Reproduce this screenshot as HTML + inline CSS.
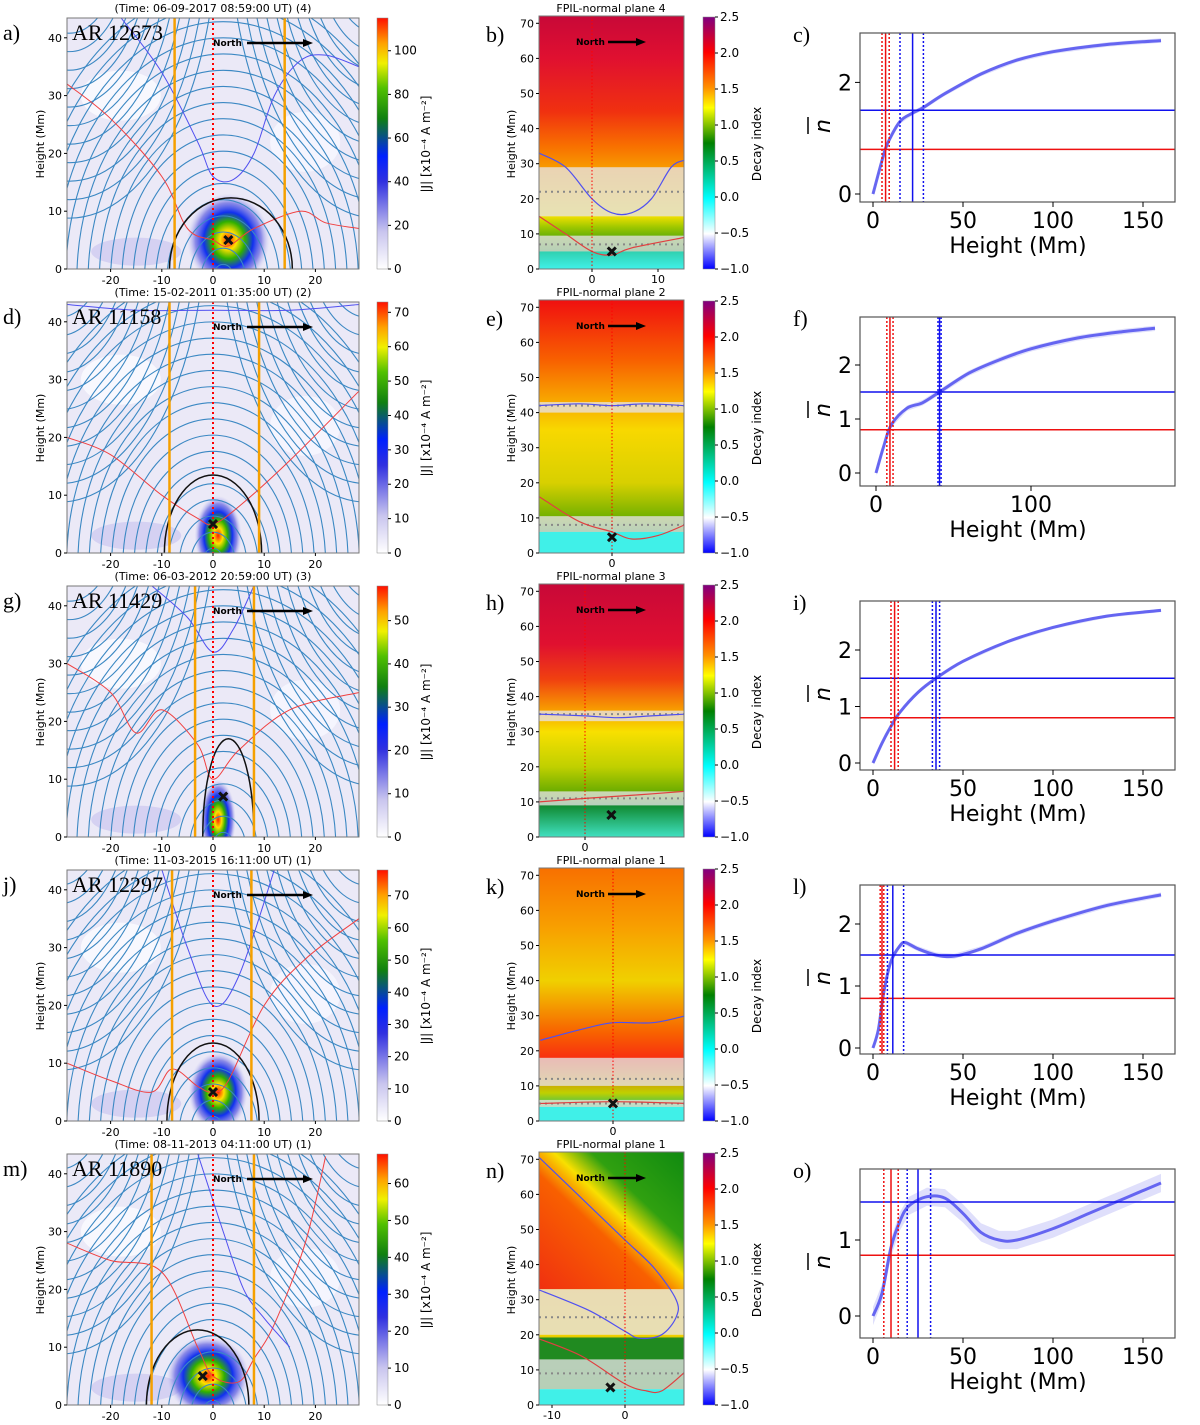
<!DOCTYPE html>
<html><head><meta charset="utf-8"><style>
body{margin:0;background:#fff}
svg text{font-family:"DejaVu Sans","Liberation Sans",sans-serif}
</style></head><body>
<svg id="fig" xmlns="http://www.w3.org/2000/svg" width="1200" height="1420" viewBox="0 0 1200 1420">
<defs>
<linearGradient id="jcb" x1="0" y1="1" x2="0" y2="0">
<stop offset="0" stop-color="#ffffff"/><stop offset="0.15" stop-color="#c8c4ee"/><stop offset="0.35" stop-color="#3030e0"/><stop offset="0.45" stop-color="#0020ff"/><stop offset="0.6" stop-color="#108010"/><stop offset="0.72" stop-color="#50c000"/><stop offset="0.82" stop-color="#f0f000"/><stop offset="0.9" stop-color="#ffa000"/><stop offset="1" stop-color="#ff1000"/>
</linearGradient>
<linearGradient id="dcb" x1="0" y1="1" x2="0" y2="0">
<stop offset="0" stop-color="#0000ff"/><stop offset="0.14" stop-color="#ffffff"/><stop offset="0.28" stop-color="#00ffff"/><stop offset="0.5" stop-color="#008000"/><stop offset="0.64" stop-color="#ffff00"/><stop offset="0.72" stop-color="#ff9000"/><stop offset="0.86" stop-color="#ff0000"/><stop offset="1" stop-color="#800080"/>
</linearGradient>
<linearGradient id="ndiag" x1="0" y1="1" x2="1" y2="0">
<stop offset="0" stop-color="#f03010"/><stop offset="0.42" stop-color="#f86000"/><stop offset="0.55" stop-color="#f8e000"/><stop offset="0.68" stop-color="#30a010"/><stop offset="1" stop-color="#108a10"/>
</linearGradient>
<radialGradient id="blob"><stop offset="0" stop-color="#ff2000"/><stop offset="0.2" stop-color="#ffe000"/><stop offset="0.4" stop-color="#30b000"/><stop offset="0.6" stop-color="#1030f0"/><stop offset="0.8" stop-color="#6060e0" stop-opacity="0.7"/><stop offset="1" stop-color="#c0c0f0" stop-opacity="0"/></radialGradient>
</defs>
</svg>
<script>
// ---------- data ----------
const rowOffsets=[0,284,568,852,1136];
const letters1=["a)","d)","g)","j)","m)"],letters2=["b)","e)","h)","k)","n)"],letters3=["c)","f)","i)","l)","o)"];
const timeTitles=["(Time: 06-09-2017 08:59:00 UT) (4)","(Time: 15-02-2011 01:35:00 UT) (2)","(Time: 06-03-2012 20:59:00 UT) (3)","(Time: 11-03-2015 16:11:00 UT) (1)","(Time: 08-11-2013 04:11:00 UT) (1)"];
const arNames=["AR 12673","AR 11158","AR 11429","AR 12297","AR 11890"];
const planeTitles=["FPIL-normal plane 4","FPIL-normal plane 2","FPIL-normal plane 3","FPIL-normal plane 1","FPIL-normal plane 1"];
const jMax=[115,73,58,78,68];
const jStep=[20,10,10,10,10];
const orangeX=[[-7.5,14],[-8.5,9],[-3.5,8],[-8,7.5],[-12,8]];
const blobCenter=[[3,5],[1,3],[1,3],[1,5],[-1,5]];
const blobSize=[[7,7],[4,6],[3,6],[5,6],[7,6]];
const xMark1=[[3,5],[0,5],[2,7],[0,5],[-2,5]];
const blackArc=[[3.5,12,12.3],[0,9.5,13.5],[3,5,17],[0,9,13.5],[-3,10,13]];
const fieldCenter=[2,0,2,0,0];
const red1=[[[-28.5,32],[-20,26],[-10,16],[-5,7],[0,5],[3,4],[8,7],[17,10],[22,8],[28.5,7]],
 [[-28.5,20],[-20,17],[-10,10],[-3,6],[0,5],[5,8],[15,16],[28.5,28]],
 [[-28.5,30],[-20,25],[-15,18],[-10,22],[-3,16],[0,10],[5,15],[15,22],[28.5,25]],
 [[-28.5,10],[-20,7],[-12,5],[-8,9],[-3,6],[0,5],[3,7],[10,20],[18,28],[28.5,35]],
 [[-28.5,28],[-20,25],[-10,23],[-3,10],[0,5],[5,4],[8,8],[12,14],[18,28],[22,43]]];
const blue1=[[[-18,43.5],[-10,34],[-3,22],[0,16],[4,15.5],[8,20],[12,30],[17,36],[22,37],[28.5,35]],
 [[-28.5,43],[-15,42],[0,42],[15,42],[28.5,43]],
 [[-12,43.5],[-5,38],[0,32],[4,36],[8,43.5]],
 [[-10,43.5],[-5,30],[0,20],[5,25],[12,43.5]],
 [[-3,43.5],[2,30],[6,20],[10,15],[15,10]]];
const d2x0=[592,612,585,613,625];
const d2scale=[6.6,6.6,6.6,6.6,7.3];
const d2stops=[
 [[0,'#40f0e8'],[5,'#30d0b0'],[5.1,'#108a10'],[12,'#a0c800'],[15,'#f0e000'],[28,'#f8a000'],[35,'#f87000'],[45,'#f03010'],[60,'#e01030'],[72,'#c80838']],
 [[0,'#40f0e8'],[6,'#40f0e8'],[6.1,'#209020'],[10,'#70b000'],[20,'#d8d000'],[35,'#f8d800'],[42,'#f8b000'],[55,'#f86000'],[72,'#f01010']],
 [[0,'#40e0c0'],[9,'#108a30'],[12,'#60a800'],[20,'#c0d000'],[30,'#f8e000'],[36,'#f8a000'],[45,'#f04010'],[55,'#e01030'],[72,'#c80838']],
 [[0,'#40f0e8'],[4,'#40f0e8'],[4.1,'#30c060'],[8,'#c0d000'],[18,'#f83010'],[25,'#f86000'],[40,'#f0d000'],[55,'#f8a000'],[72,'#f87000']],
 [[0,'#40f0e8'],[4.5,'#40f0e8'],[4.6,'#108a10'],[13,'#208a20'],[19,'#208a20'],[19.5,'#f0d000'],[33,'#f8c000'],[72,'#f04010']]];
const d2bands=[[[15,29],[5,9.5]],[[40,43],[6,10.5]],[[33,36],[9,13]],[[10,18],[4,6]],[[20,33],[4.5,13]]];
const d2dots=[[22,7],[42,8],[35,11],[12,5],[25,9]];
const d2xticks=[[0,10],[0],[0],[0],[-10,0]];
const d2mark=[[3,5],[0,4.5],[4,6.3],[0,5],[-2,5]];
const d2blue=[[[-8,33],[-4,29],[0,20],[3,16],[6,16],[9,20],[12,29],[14,31]],
 [[-11,42],[-5,42.5],[0,42],[5,42.5],[11,42]],
 [[-7,35],[0,34.5],[5,34],[10,34.5],[15,35]],
 [[-11,23],[-5,26],[0,28],[6,28],[11,30]],
 [[-12,71],[-5,57],[0,47],[4,39],[7,30],[7,25],[5,20],[2,19],[0,21],[-5,27],[-12,33]]];
const d2red=[[[-8,15],[-4,10],[0,5],[3,4],[6,6],[14,9]],
 [[-11,16],[-5,9],[0,6],[3,4],[7,5],[11,8]],
 [[-7,10],[0,11],[8,12],[15,13]],
 [[-11,5],[0,5.5],[11,5]],
 [[-12,19],[-6,14],[0,6],[3,4],[5,4],[8,9]]];
const c3x0=[873,876,873,873,873];
const c3sx=[1.8,1.55,1.8,1.8,1.8];
const c3y0=[194,189,195,196,180];
const c3sy=[55.8,54,56.5,62,76];
const c3yticks=[[0,2],[0,1,2],[0,1,2],[0,1,2],[0,1]];
const c3xticks=[[0,50,100,150],[0,100],[0,50,100,150],[0,50,100,150],[0,50,100,150]];
const redSolid=[7,9,12,5,10],redDot=[[5,9],[7,11],[10,14],[4,6],[6,14]];
const blueSolid=[22,41,35,11,25],blueDot=[[15,28],[40,42],[33,37],[8,17],[19,32]];
const hBlue=1.5,hRed=0.8;
const profH=[[0,5,8,15,22,28,40,60,80,100,130,160],[0,5,10,20,30,41,60,80,100,130,160,180],[0,5,10,15,25,35,50,75,100,130,160],[0,3,6,10,15,18,25,35,45,60,80,100,130,160],[0,5,10,15,20,30,40,50,60,70,80,100,120,140,160]];
const profN=[[0,0.6,0.9,1.3,1.45,1.55,1.8,2.15,2.4,2.55,2.68,2.75],[0,0.5,0.9,1.2,1.3,1.5,1.85,2.1,2.3,2.5,2.62,2.68],[0,0.35,0.65,0.9,1.25,1.5,1.8,2.15,2.4,2.6,2.7],[0,0.3,0.9,1.4,1.65,1.7,1.6,1.5,1.48,1.6,1.85,2.05,2.3,2.47],[0,0.3,0.9,1.25,1.45,1.57,1.55,1.35,1.1,1.0,1.0,1.15,1.35,1.55,1.75]];
const profErr=[0.04,0.05,0.03,0.04,0.12];

const NS="http://www.w3.org/2000/svg",svg=document.getElementById('fig');
function el(t,a,p){const e=document.createElementNS(NS,t);for(const k in a)e.setAttribute(k,a[k]);(p||svg).appendChild(e);return e;}
function txt(s,a,p){const e=el('text',a,p);e.textContent=s;return e;}
function pathOf(pts,fx,fy){return pts.map((p,i)=>(i?'L':'M')+fx(p[0]).toFixed(1)+' '+fy(p[1]).toFixed(1)).join(' ');}
function smooth(pts,fx,fy){let d='M'+fx(pts[0][0])+' '+fy(pts[0][1]);for(let i=1;i<pts.length;i++){const p0=pts[Math.max(i-2,0)],p1=pts[i-1],p2=pts[i],p3=pts[Math.min(i+1,pts.length-1)];
 const c1=[fx(p1[0])+(fx(p2[0])-fx(p0[0]))/6,fy(p1[1])+(fy(p2[1])-fy(p0[1]))/6],c2=[fx(p2[0])-(fx(p3[0])-fx(p1[0]))/6,fy(p2[1])-(fy(p3[1])-fy(p1[1]))/6];
 d+=` C${c1[0].toFixed(1)} ${c1[1].toFixed(1)} ${c2[0].toFixed(1)} ${c2[1].toFixed(1)} ${fx(p2[0]).toFixed(1)} ${fy(p2[1]).toFixed(1)}`;}return d;}
function xmark(g,x,y){el('path',{d:`M${x-4} ${y-4}L${x+4} ${y+4}M${x-4} ${y+4}L${x+4} ${y-4}`,stroke:'#111','stroke-width':3},g);}

rowOffsets.forEach((oy,r)=>{
 const row=el('g',{transform:`translate(0,${oy})`});
 
 
 const g1=el('g',{});
 
 
 row.appendChild(g1);
 const X=x=>213+x*5.12,Y=h=>269-h*5.78;
 const L=67,R=359,T=18,B=269;
 el('clipPath',{id:'c1'+r},g1).appendChild(el('rect',{x:L,y:T,width:R-L,height:B-T},g1));
 const pg=el('g',{'clip-path':`url(#c1${r})`},g1);
 el('rect',{x:L,y:T,width:R-L,height:B-T,fill:'#ebe9f7'},pg);
 el('ellipse',{cx:X(-18),cy:Y(30),rx:40,ry:25,fill:'#fbfbff',opacity:0.8},pg);
 el('ellipse',{cx:X(18),cy:Y(22),rx:35,ry:30,fill:'#f8f8ff',opacity:0.8},pg);
 el('ellipse',{cx:X(-15),cy:Y(3),rx:45,ry:14,fill:'#cfcaf0',opacity:0.8},pg);
 const bc=blobCenter[r],bs=blobSize[r];
 const blob=el('ellipse',{cx:X(bc[0]),cy:Y(bc[1]),rx:bs[0]*5.12*1.15,ry:bs[1]*5.78*1.15,fill:'url(#blob)'},pg);
 
 
 const fc=fieldCenter[r];
 const sl=el('g',{fill:'none',stroke:'#3b88c3','stroke-width':1.1},pg);
 
 
 for(let k=1;k<=18;k++){const rx=k*2.2,ry=k*2.8;
  el('path',{d:`M${X(fc-rx)} ${Y(-2)} A${rx*5.12} ${ry*5.78} 0 0 1 ${X(fc+rx)} ${Y(-2)}`},sl);}
 [-30,30].forEach(c=>{for(let k=2;k<=16;k++){const rx=k*1.8,ry=k*3.2;
  el('path',{d:`M${X(c+fc-rx)} ${Y(60)} A${rx*5.12} ${ry*5.78} 0 0 0 ${X(c+fc+rx)} ${Y(60)}`},sl);}});
 const rc=el('path',{d:smooth(red1[r],X,Y),fill:'none',stroke:'#f04040','stroke-width':1},pg);
 
 
 const bcn=el('path',{d:smooth(blue1[r],X,Y),fill:'none',stroke:'#5050f0','stroke-width':1},pg);
 
 
 const ba=blackArc[r];
 const arc=el('path',{d:`M${X(ba[0]-ba[1])} ${Y(0)} A${ba[1]*5.12} ${ba[2]*5.78} 0 0 1 ${X(ba[0]+ba[1])} ${Y(0)}`,fill:'none',stroke:'#111','stroke-width':1.5},pg);
 
 
 orangeX[r].forEach(v=>{const o=el('line',{x1:X(v),x2:X(v),y1:T,y2:B,stroke:'#f5a000','stroke-width':2.5},pg);
  
  });
 el('line',{x1:X(0),x2:X(0),y1:T,y2:B,stroke:'#f00','stroke-width':2,'stroke-dasharray':'2 3'},pg);
 xmark(pg,X(xMark1[r][0]),Y(xMark1[r][1]));
 txt('North',{x:213,y:46,'font-size':9,'font-weight':'bold'},pg);
 el('path',{d:'M247 43H303',stroke:'#000','stroke-width':2.5},pg);
 el('path',{d:'M303 39L313 43L303 47Z',fill:'#000'},pg);
 txt(arNames[r],{x:72,y:40,'font-size':22,style:'font-family:"Liberation Serif",serif'},g1);
 el('rect',{x:L,y:T,width:R-L,height:B-T,fill:'none',stroke:'#777','stroke-width':1},g1);
 txt(timeTitles[r],{x:213,y:12,'font-size':11,'text-anchor':'middle'},g1);
 txt(letters1[r],{x:3,y:40,'font-size':22,style:'font-family:"Liberation Serif",serif'},g1);
 [-20,-10,0,10,20].forEach(v=>{el('line',{x1:X(v),x2:X(v),y1:B,y2:B+3,stroke:'#000'},g1);txt(String(v),{x:X(v),y:B+15,'font-size':11,'text-anchor':'middle'},g1);});
 [0,10,20,30,40].forEach(v=>{el('line',{x1:L-3,x2:L,y1:Y(v),y2:Y(v),stroke:'#000'},g1);txt(String(v),{x:L-5,y:Y(v)+4,'font-size':11,'text-anchor':'end'},g1);});
 txt('Height (Mm)',{transform:`translate(44,144) rotate(-90)`,'font-size':11,'text-anchor':'middle'},g1);
 const cb=el('rect',{x:377,y:T,width:11,height:B-T,fill:'url(#jcb)',stroke:'#888','stroke-width':0.5},g1);
 
 
 for(let v=0;v<=jMax[r];v+=jStep[r]){const y=B-(v/jMax[r])*(B-T);el('line',{x1:388,x2:391,y1:y,y2:y,stroke:'#000'},g1);txt(String(v),{x:394,y:y+4,'font-size':12},g1);}
 txt('|J| [x10\u207B\u2074 A m\u207B\u00B2]',{transform:`translate(430,144) rotate(-90)`,'font-size':12,'text-anchor':'middle'},g1);

 const g2=el('g',{});
 
 
 row.appendChild(g2);
 const X2=x=>d2x0[r]+x*d2scale[r],Y2=h=>269-h*3.51;
 const L2=539,R2=684,T2=16,B2=269;
 const gid='dg'+r;const lg=el('linearGradient',{id:gid,x1:0,y1:1,x2:0,y2:0,gradientUnits:'objectBoundingBox'},g2);
 d2stops[r].forEach(s=>el('stop',{offset:Math.min(1,s[0]/72),'stop-color':s[1]},lg));
 el('clipPath',{id:'c2'+r},g2).appendChild(el('rect',{x:L2,y:T2,width:R2-L2,height:B2-T2},g2));
 const pg2=el('g',{'clip-path':`url(#c2${r})`},g2);
 el('rect',{x:L2,y:Y2(72),width:R2-L2,height:Y2(0)-Y2(72),fill:`url(#${gid})`},pg2);
 if(r===4)el('rect',{x:L2,y:Y2(72),width:R2-L2,height:Y2(33)-Y2(72),fill:'url(#ndiag)'},pg2);
 d2bands[r].forEach(b=>{const bd=el('rect',{x:L2,y:Y2(b[1]),width:R2-L2,height:Y2(b[0])-Y2(b[1]),fill:'#e6e3e6',opacity:0.78},pg2);
  
  });
 d2dots[r].forEach(h=>el('line',{x1:L2,x2:R2,y1:Y2(h),y2:Y2(h),stroke:'#888','stroke-width':2,'stroke-dasharray':'2 4'},pg2));
 el('path',{d:smooth(d2blue[r],X2,Y2),fill:'none',stroke:'#5050f0','stroke-width':1.2},pg2);
 el('path',{d:smooth(d2red[r],X2,Y2),fill:'none',stroke:'#e04040','stroke-width':1.2},pg2);
 el('line',{x1:X2(0),x2:X2(0),y1:T2,y2:B2,stroke:'#f00','stroke-width':1,'stroke-dasharray':'1.5 2'},pg2);
 xmark(pg2,X2(d2mark[r][0]),Y2(d2mark[r][1]));
 txt('North',{x:576,y:45,'font-size':9,'font-weight':'bold'},pg2);
 el('path',{d:'M608 42H636',stroke:'#000','stroke-width':2.5},pg2);
 el('path',{d:'M636 38L646 42L636 46Z',fill:'#000'},pg2);
 el('rect',{x:L2,y:T2,width:R2-L2,height:B2-T2,fill:'none',stroke:'#777','stroke-width':1},g2);
 txt(planeTitles[r],{x:611,y:12,'font-size':11,'text-anchor':'middle'},g2);
 txt(letters2[r],{x:486,y:42,'font-size':22,style:'font-family:"Liberation Serif",serif'},g2);
 d2xticks[r].forEach(v=>{el('line',{x1:X2(v),x2:X2(v),y1:B2,y2:B2+3,stroke:'#000'},g2);txt(String(v),{x:X2(v),y:B2+14,'font-size':11,'text-anchor':'middle'},g2);});
 for(let v=0;v<=70;v+=10){el('line',{x1:L2-3,x2:L2,y1:Y2(v),y2:Y2(v),stroke:'#000'},g2);txt(String(v),{x:L2-5,y:Y2(v)+4,'font-size':11,'text-anchor':'end'},g2);}
 txt('Height (Mm)',{transform:`translate(515,144) rotate(-90)`,'font-size':11,'text-anchor':'middle'},g2);
 const cb2=el('rect',{x:703,y:17,width:12,height:252,fill:'url(#dcb)',stroke:'#888','stroke-width':0.5},g2);
 
 
 [-1,-0.5,0,0.5,1,1.5,2,2.5].forEach(v=>{const y=269-(v+1)/3.5*252;el('line',{x1:715,x2:718,y1:y,y2:y,stroke:'#000'},g2);txt((v<0?'\u2212':'')+Math.abs(v).toFixed(1),{x:720,y:y+4,'font-size':12},g2);});
 txt('Decay index',{transform:`translate(761,144) rotate(-90)`,'font-size':12,'text-anchor':'middle'},g2);

 const g3=el('g',{});
 
 
 row.appendChild(g3);
 const X3=v=>c3x0[r]+v*c3sx[r],Y3=v=>c3y0[r]-v*c3sy[r];
 const L3=860,R3=1175,T3=33,B3=202;
 el('clipPath',{id:'c3'+r},g3).appendChild(el('rect',{x:L3,y:T3,width:R3-L3,height:B3-T3},g3));
 const pg3=el('g',{'clip-path':`url(#c3${r})`},g3);
 const H=profH[r],N=profN[r],e=profErr[r];
 const up=H.map((h,i)=>[h,N[i]+e]),dn=H.map((h,i)=>[h,N[i]-e]).reverse();
 el('path',{d:pathOf(up.concat(dn),X3,Y3)+'Z',fill:'#8080f0',opacity:0.25},pg3);
 const cur=el('path',{d:smooth(H.map((h,i)=>[h,N[i]]),X3,Y3),fill:'none',stroke:'#5050ee','stroke-width':3,opacity:0.85},pg3);
 
 
 const hb=el('line',{x1:L3,x2:R3,y1:Y3(hBlue),y2:Y3(hBlue),stroke:'#1010ee','stroke-width':1.5},pg3);
 
 
 const hr=el('line',{x1:L3,x2:R3,y1:Y3(hRed),y2:Y3(hRed),stroke:'#ee1010','stroke-width':1.5},pg3);
 
 
 el('line',{x1:X3(redSolid[r]),x2:X3(redSolid[r]),y1:T3,y2:B3,stroke:'#ee1010','stroke-width':1.5},pg3);
 redDot[r].forEach(v=>el('line',{x1:X3(v),x2:X3(v),y1:T3,y2:B3,stroke:'#ee1010','stroke-width':1.5,'stroke-dasharray':'2 2'},pg3));
 el('line',{x1:X3(blueSolid[r]),x2:X3(blueSolid[r]),y1:T3,y2:B3,stroke:'#1010ee','stroke-width':1.5},pg3);
 blueDot[r].forEach(v=>el('line',{x1:X3(v),x2:X3(v),y1:T3,y2:B3,stroke:'#1010ee','stroke-width':1.5,'stroke-dasharray':'2 2'},pg3));
 el('rect',{x:L3,y:T3,width:R3-L3,height:B3-T3,fill:'none',stroke:'#555','stroke-width':1.2},g3);
 txt(letters3[r],{x:793,y:42,'font-size':22,style:'font-family:"Liberation Serif",serif'},g3);
 c3xticks[r].forEach(v=>{el('line',{x1:X3(v),x2:X3(v),y1:B3,y2:B3+5,stroke:'#000'},g3);txt(String(v),{x:X3(v),y:B3+26,'font-size':22,'text-anchor':'middle'},g3);});
 c3yticks[r].forEach(v=>{el('line',{x1:L3-5,x2:L3,y1:Y3(v),y2:Y3(v),stroke:'#000'},g3);txt(String(v),{x:L3-8,y:Y3(v)+8,'font-size':22,'text-anchor':'end'},g3);});
 txt('Height (Mm)',{x:1018,y:253,'font-size':22,'text-anchor':'middle'},g3);
 txt('n',{transform:`translate(830,126) rotate(-90)`,'font-size':22,'font-style':'italic','text-anchor':'middle'},g3);
 el('line',{x1:808,x2:808,y1:117,y2:134,stroke:'#000','stroke-width':1.5},g3);
});
</script>
</body></html>
